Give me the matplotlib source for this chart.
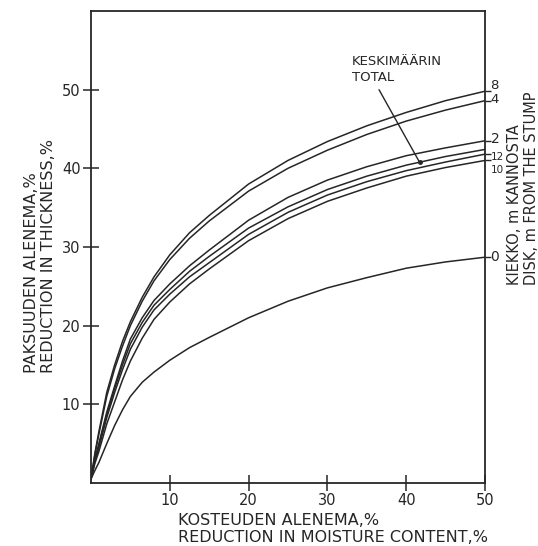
import numpy as np
import matplotlib.pyplot as plt

# moisture reduction (%) and thickness reduction (%)
moisture = [0, 0.5, 1, 2, 3, 4, 5, 6.5, 8, 10, 12.5, 15, 20, 25, 30, 35, 40, 45, 50]
disk_8 = [0.5, 3.8, 6.5, 11.5, 15.0, 18.0, 20.5, 23.6, 26.2, 29.0, 31.8, 34.0, 38.0, 41.0, 43.4, 45.4, 47.1, 48.6, 49.8]
disk_4 = [0.5, 3.6, 6.2, 11.0, 14.5, 17.4, 20.0, 23.1, 25.7, 28.4, 31.1, 33.3, 37.1, 40.0, 42.3, 44.3, 46.0, 47.4, 48.6]
disk_2 = [0.5, 3.0, 5.0, 9.0, 12.3, 15.5, 18.3, 21.0, 23.2, 25.3, 27.6, 29.6, 33.4, 36.3, 38.5, 40.2, 41.6, 42.6, 43.5]
total = [0.5, 2.9, 4.8, 8.7, 12.0, 15.0, 17.7, 20.4, 22.6, 24.6, 26.9, 28.8, 32.4, 35.1, 37.3, 39.0, 40.4, 41.5, 42.4]
disk_12 = [0.5, 2.8, 4.5, 8.3, 11.5, 14.4, 17.0, 19.8, 22.0, 24.0, 26.2, 28.0, 31.6, 34.4, 36.6, 38.3, 39.7, 40.8, 41.8]
disk_10 = [0.5, 2.5, 4.0, 7.5, 10.3, 13.1, 15.5, 18.4, 20.8, 23.0, 25.3, 27.2, 30.8, 33.6, 35.8, 37.5, 39.0, 40.1, 41.0]
disk_0 = [0.5, 1.6, 2.6, 5.0, 7.3, 9.3, 11.0, 12.8, 14.1, 15.6, 17.2, 18.5, 21.0, 23.1, 24.8, 26.1, 27.3, 28.1, 28.7]

disk_labels = ['8', '4', '2', '12', '10', '0']
disk_series = [disk_8, disk_4, disk_2, disk_12, disk_10, disk_0]
total_point_x = 41.7

# label tweaks (offset in points, font size) so the crowded ones don't overlap
label_dy = [4.0, 0.8, 1.5, -1.8, -7.0, 0]
label_size = [9.5, 9.5, 10, 7.5, 7.5, 10]

ink = '#262626'
plt.rcParams['font.family'] = ['DejaVu Sans']

fig = plt.figure(figsize=(5.38, 5.46), dpi=100)
ax = fig.add_axes([0.1691, 0.1154, 0.7323, 0.8645])

for ys in disk_series + [total]:
    ax.plot(moisture, ys, color=ink, lw=1.1)

ax.set_xlim(0, 50)
ax.set_ylim(0, 60)
ax.set_xticks([10, 20, 30, 40, 50])
ax.set_yticks([10, 20, 30, 40, 50])
ax.tick_params(direction='inout', length=11, width=1.1, labelsize=10.5,
               colors=ink, pad=2)
for s in ax.spines.values():
    s.set_linewidth(1.3)
    s.set_color(ink)

# right-hand ticks at the end of each curve
ax2 = ax.twinx()
ax2.set_ylim(0, 60)
ends = [ys[-1] for ys in disk_series]
ax2.set_yticks(ends)
ax2.tick_params(direction='out', length=4, width=1.0, labelright=False, colors=ink)
for sp in ax2.spines.values():
    sp.set_visible(False)
for lab, val, dy, fs in zip(disk_labels, ends, label_dy, label_size):
    ax.annotate(lab, xy=(1, val), xycoords=('axes fraction', 'data'),
                xytext=(4, dy), textcoords='offset points',
                va='center', ha='left', fontsize=fs, color=ink)

# KESKIMÄÄRIN / TOTAL pointer
total_y = np.interp(total_point_x, moisture, total)
ax.plot([total_point_x], [total_y], 'o', color=ink, ms=2.5)
ax.annotate('KESKIMÄÄRIN\nTOTAL', xy=(total_point_x, total_y),
            xytext=(33.1, 52.5), textcoords='data',
            ha='left', va='center', fontsize=9.5, color=ink, linespacing=1.3,
            arrowprops=dict(arrowstyle='-', color=ink, lw=1.0,
                            relpos=(0.27, 0), shrinkA=2, shrinkB=0))

fig.text(0.074, 0.317, 'PAKSUUDEN ALENEMA,%\nREDUCTION IN THICKNESS,%',
         rotation=90, ha='center', va='bottom', multialignment='left',
         fontsize=11.5, color=ink, linespacing=1.15)
fig.text(0.331, 0.031, 'KOSTEUDEN ALENEMA,%\nREDUCTION IN MOISTURE CONTENT,%',
         ha='left', va='center', multialignment='left',
         fontsize=11.5, color=ink, linespacing=1.15)
fig.text(0.972, 0.478, 'KIEKKO, m KANNOSTA\nDISK, m FROM THE STUMP',
         rotation=90, ha='center', va='bottom', multialignment='left',
         fontsize=10.5, color=ink, linespacing=1.1)

fig.savefig('out.png', dpi=100)
